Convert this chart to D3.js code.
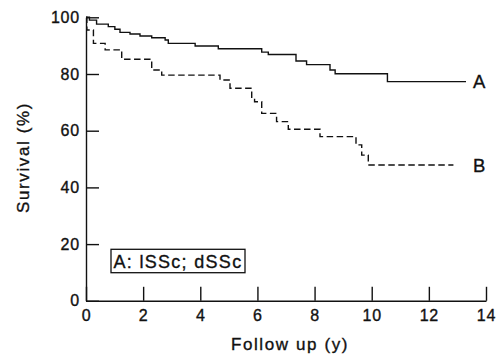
<!DOCTYPE html>
<html>
<head>
<meta charset="utf-8">
<script src="https://cdn.jsdelivr.net/npm/d3@7"></script>
<style>
  body { margin: 0; background: #fff; }
  text { font-family: "Liberation Sans", Arial, Helvetica, sans-serif; fill: #111; stroke: #111; stroke-width: 0.35px; }
</style>
</head>
<body>
<div id="chart"></div>
<script>
// Kaplan-Meier steps (time in years, survival in %)
var timesA = [0, 0.12, 0.37, 0.78, 1.01, 1.19, 1.54, 1.89, 2.3, 2.77, 2.88, 3.82, 4.63, 6.15, 6.38, 7.35, 7.72, 8.54, 8.72, 10.55, 13.3];
var survA  = [100, 99.0, 97.6, 96.7, 95.8, 94.7, 94.1, 93.4, 92.8, 92.0, 90.8, 89.9, 88.9, 87.7, 86.9, 84.6, 83.3, 81.4, 80.1, 77.3, 77.3];

var timesB = [0, 0.03, 0.26, 0.67, 1.25, 2.3, 2.65, 4.69, 5.04, 5.8, 5.9, 6.15, 6.67, 7.08, 8.19, 9.45, 9.65, 9.88, 12.86];
var survB  = [100, 95.5, 90.8, 88.5, 85.2, 81.4, 79.6, 77.9, 75.0, 71.4, 70.2, 66.1, 63.2, 60.5, 57.9, 55.0, 51.4, 47.9, 47.9];

var xTicks = [0, 2, 4, 6, 8, 10, 12, 14];
var yTicks = [0, 20, 40, 60, 80, 100];
var legendText = "A: lSSc; dSSc";

var width = 497, height = 355;

var svg = d3.select("#chart").append("svg")
    .attr("width", width)
    .attr("height", height);

var x = d3.scaleLinear().domain([0, 14]).range([86, 486]);
var y = d3.scaleLinear().domain([0, 100]).range([300.8, 17.3]);

// axes, ticks pointing inward
var xAxis = svg.append("g")
    .attr("transform", "translate(0," + y(0) + ")")
    .call(d3.axisBottom(x).tickValues(xTicks).tickSizeInner(-14).tickSizeOuter(0).tickPadding(9));

var yAxis = svg.append("g")
    .attr("transform", "translate(" + x(0) + ",0)")
    .call(d3.axisLeft(y).tickValues(yTicks).tickSizeInner(-13).tickSizeOuter(0).tickPadding(6));

[xAxis, yAxis].forEach(function(ax) {
  ax.selectAll("path, line").attr("stroke", "#111").attr("stroke-width", 1.4);
  ax.selectAll("text")
      .attr("font-size", 16)
      .attr("letter-spacing", 0.8)
      .style("font-family", "'Liberation Sans', Arial, sans-serif")
      .attr("fill", "#111");
});

// survival curves
var line = d3.line()
    .x(function(d) { return x(d[0]); })
    .y(function(d) { return y(d[1]); })
    .curve(d3.curveStepAfter);

svg.append("path")
    .datum(d3.zip(timesA, survA))
    .attr("fill", "none")
    .attr("stroke", "#111")
    .attr("stroke-width", 1.4)
    .attr("d", line);

svg.append("path")
    .datum(d3.zip(timesB, survB))
    .attr("fill", "none")
    .attr("stroke", "#111")
    .attr("stroke-width", 1.4)
    .attr("stroke-dasharray", "6.5,3.5")
    .attr("d", line);

// curve labels
svg.append("text")
    .attr("x", x(13.3) + 7)
    .attr("y", y(survA[survA.length - 1]) + 6)
    .attr("font-size", 18.5)
    .text("A");

svg.append("text")
    .attr("x", x(13.3) + 7)
    .attr("y", y(survB[survB.length - 1]) + 6.5)
    .attr("font-size", 18.5)
    .text("B");

// legend box
svg.append("rect")
    .attr("x", 111)
    .attr("y", 249.3)
    .attr("width", 134)
    .attr("height", 23.4)
    .attr("fill", "#fff")
    .attr("stroke", "#111")
    .attr("stroke-width", 1.3);

svg.append("text")
    .attr("x", 113.5)
    .attr("y", 267.5)
    .attr("font-size", 18)
    .attr("letter-spacing", 1.3)
    .text(legendText);

// axis titles
svg.append("text")
    .attr("x", 290)
    .attr("y", 350)
    .attr("text-anchor", "middle")
    .attr("font-size", 17)
    .attr("letter-spacing", 1.6)
    .text("Follow up (y)");

svg.append("text")
    .attr("transform", "translate(29,157.5) rotate(-90)")
    .attr("text-anchor", "middle")
    .attr("font-size", 17)
    .attr("letter-spacing", 1.6)
    .text("Survival (%)");
</script>
</body>
</html>
